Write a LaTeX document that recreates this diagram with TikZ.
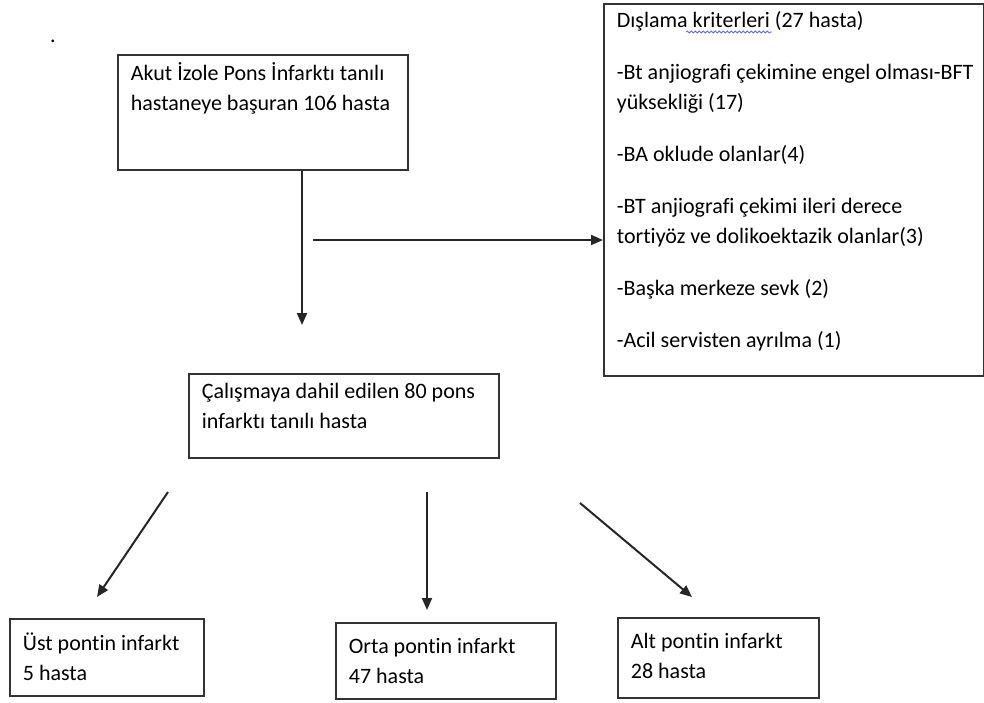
\documentclass[tikz,border=0pt]{standalone}
\usepackage{fontspec}
\setmainfont{Carlito}[Ligatures=NoCommon]
\usetikzlibrary{arrows.meta,decorations.pathmorphing}

% width, height, first baseline, text
\newcommand{\boxtext}[4]{\parbox[c][#2][t]{#1}{\leftskip=6.5pt\rightskip=0pt plus 1fil\rule{0pt}{#3}#4}}

\begin{document}
\begin{tikzpicture}[x=0.5pt,y=-0.5pt,
   box/.style={draw=black!80, line width=0.9pt, inner sep=0pt, anchor=north west,
      font=\fontsize{11}{15}\selectfont},
   arr/.style={draw=black!85, line width=1pt, -{Triangle[length=6pt,width=5pt]}},
   spellwave/.style={draw=blue!60, line width=0.4pt,
      decorate, decoration={snake, amplitude=0.5pt, segment length=2pt}}]

   \useasboundingbox (0,0) rectangle (984,702);

   \node[font=\fontsize{11}{15}\selectfont] (dot) at (53,41) {.};

   \node[box] (admit) at (117,54) {\boxtext{145pt}{57.5pt}{12.75pt}{Akut İzole Pons İnfarktı tanılı\\hastaneye başuran 106 hasta}};

   \node[box] (exclude) at (603,3) {\boxtext{190pt}{186pt}{11.75pt}{Dışlama kriterleri (27 hasta)\\[11pt]
      -Bt anjiografi çekimine engel olması-BFT\\yüksekliği (17)\\[11pt]
      -BA oklude olanlar(4)\\[11pt]
      -BT anjiografi çekimi ileri derece\\tortiyöz ve dolikoektazik olanlar(3)\\[11pt]
      -Başka merkeze sevk (2)\\[11pt]
      -Acil servisten ayrılma (1)}};
   % spell-check underline
   \draw[spellwave] (686,32) -- (772,32);

   \node[box] (study) at (188,373) {\boxtext{155pt}{42pt}{12.25pt}{Çalışmaya dahil edilen 80 pons\\infarktı tanılı hasta}};

   \node[box] (upper) at (9,618) {\boxtext{97pt}{38.5pt}{15.75pt}{Üst pontin infarkt\\5 hasta}};
   \node[box] (middle) at (335,622) {\boxtext{110pt}{38pt}{15.25pt}{Orta pontin infarkt\\47 hasta}};
   \node[box] (lower) at (617,617) {\boxtext{100.5pt}{40pt}{15.25pt}{Alt pontin infarkt\\28 hasta}};

   \coordinate (downend) at (302,325);
   \coordinate (sidestart) at (313,240);
   \coordinate (s1) at (168,492);
   \coordinate (e1) at (97,597);
   \coordinate (s2) at (427,492);
   \coordinate (e2) at (427,610);
   \coordinate (s3) at (580,503);
   \coordinate (e3) at (692,597);

   \draw[arr] (downend |- admit.south) -- (downend);
   \draw[arr] (sidestart) -- (sidestart -| exclude.west);

   \draw[arr] (s1) -- (e1);
   \draw[arr] (s2) -- (e2);
   \draw[arr] (s3) -- (e3);
\end{tikzpicture}
\end{document}
